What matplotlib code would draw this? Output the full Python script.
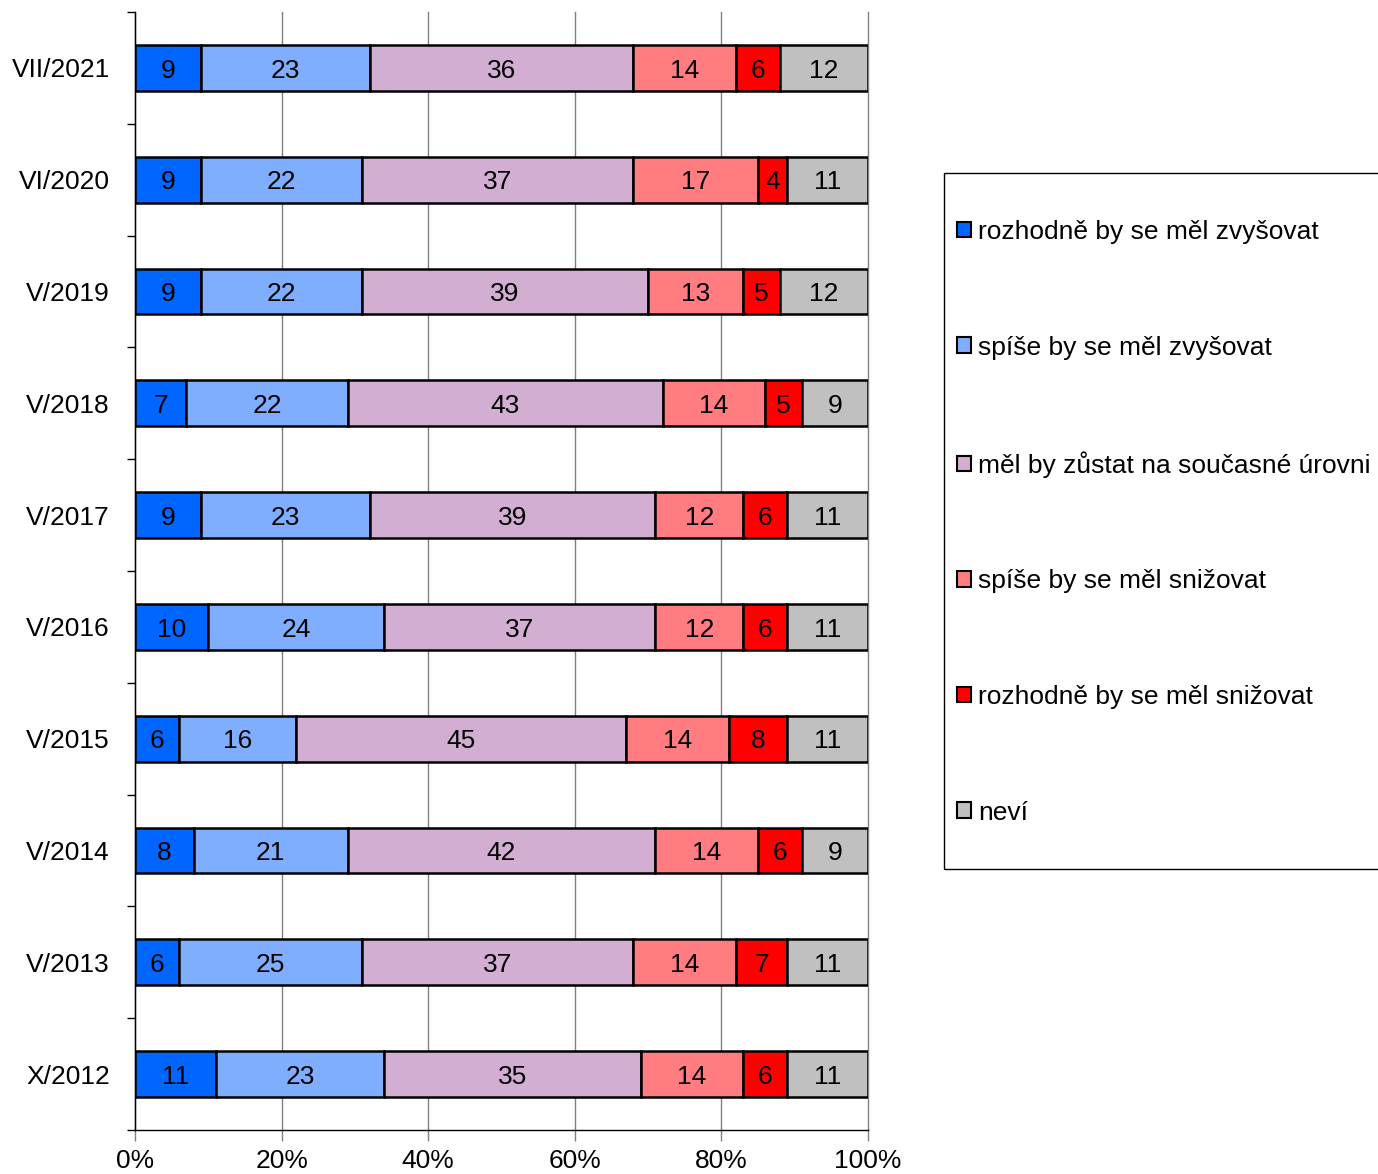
import numpy as np
import matplotlib.pyplot as plt
from matplotlib.patches import Rectangle

plt.rcParams['font.family'] = ['Liberation Sans', 'DejaVu Sans']

periods = ['VII/2021', 'VI/2020', 'V/2019', 'V/2018', 'V/2017',
           'V/2016', 'V/2015', 'V/2014', 'V/2013', 'X/2012']
answers = ['rozhodně by se měl zvyšovat', 'spíše by se měl zvyšovat',
           'měl by zůstat na současné úrovni', 'spíše by se měl snižovat',
           'rozhodně by se měl snižovat', 'neví']
colors = ['#0066FF', '#7FAEFF', '#D2AFD2', '#FF7C80', '#FF0000', '#C0C0C0']

definitely_up = [9, 9, 9, 7, 9, 10, 6, 8, 6, 11]
rather_up = [23, 22, 22, 22, 23, 24, 16, 21, 25, 23]
same_level = [36, 37, 39, 43, 39, 37, 45, 42, 37, 35]
rather_down = [14, 17, 13, 14, 12, 12, 14, 14, 14, 14]
definitely_down = [6, 4, 5, 5, 6, 6, 8, 6, 7, 6]
dont_know = [12, 11, 12, 9, 11, 11, 11, 9, 11, 11]
series = [definitely_up, rather_up, same_level, rather_down, definitely_down, dont_know]

fs = 19

fig = plt.figure(figsize=(13.78, 11.74), dpi=100)
ax = fig.add_axes([135 / 1378, 1 - 1130 / 1174, (868 - 135) / 1378, (1130 - 12) / 1174])

y = np.arange(len(periods))
left = np.zeros(len(periods))
for vals, name, col in zip(series, answers, colors):
    vals = np.array(vals)
    bars = ax.barh(y, vals, left=left, height=0.41, color=col, edgecolor='black',
                   linewidth=1.8, label=name, zorder=3)
    for b, v in zip(bars, vals):
        ax.text(b.get_x() + b.get_width() / 2, b.get_y() + b.get_height() / 2 + 0.025, str(v),
                ha='center', va='center', fontsize=fs, color='black', zorder=4)
    left += vals

ax.set_xlim(0, 100)
ax.set_ylim(len(periods) - 0.5, -0.5)
ax.set_xticks([0, 20, 40, 60, 80, 100])
ax.set_xticklabels(['0%', '20%', '40%', '60%', '80%', '100%'], fontsize=fs)
ax.set_yticks(y)
ax.set_yticklabels(periods, fontsize=fs)
ax.set_yticks(np.arange(len(periods) + 1) - 0.5, minor=True)
ax.tick_params(axis='y', which='major', length=0, pad=18)
ax.tick_params(axis='y', which='minor', length=6, width=1, color='black')
ax.tick_params(axis='x', length=8, width=1, color='#808080', pad=6)
ax.grid(axis='x', color='#808080', linewidth=1, zorder=0)
for line in ax.get_xgridlines():
    line.set_clip_on(False)
for s in ['top', 'right']:
    ax.spines[s].set_visible(False)
ax.spines['left'].set_linewidth(1)
ax.spines['bottom'].set_linewidth(1)

# legend box, cut off by the right edge like in the original
fig.patches.append(Rectangle((944 / 1378, 1 - 869 / 1174), 0.5, (869 - 173) / 1174,
                             transform=fig.transFigure, fill=False, edgecolor='black',
                             linewidth=1))
leg = ax.legend(loc='upper left', bbox_to_anchor=(957 / 1378, 1 - 220 / 1174),
                bbox_transform=fig.transFigure, fontsize=fs, frameon=False,
                handlelength=0.53, handleheight=0.53, handletextpad=0.27,
                labelspacing=3.47, borderpad=0, borderaxespad=0)
for h in leg.legend_handles:
    h.set_linewidth(1.5)

fig.savefig('out.png', dpi=100)
